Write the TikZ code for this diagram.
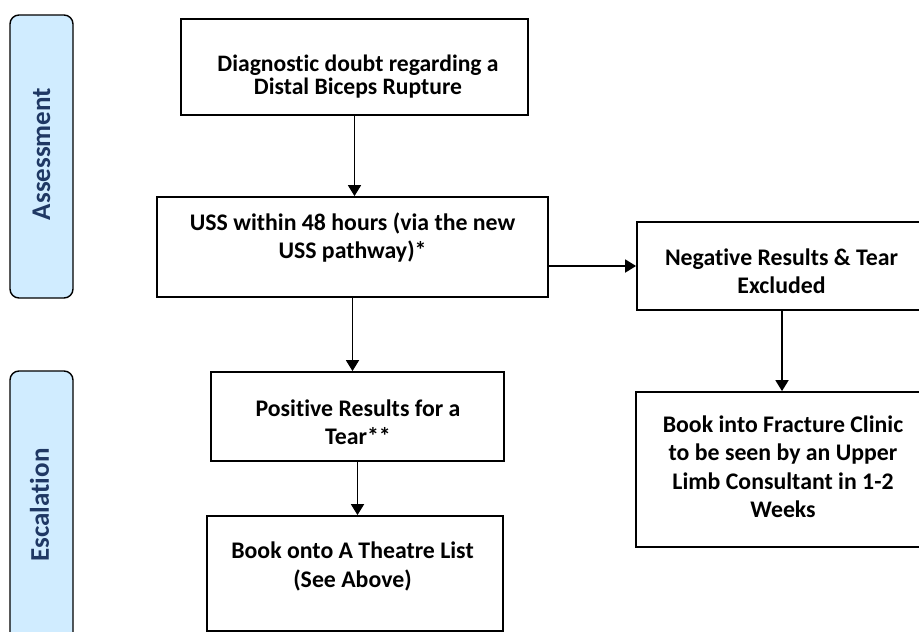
\documentclass[tikz,border=0pt]{standalone}
\usepackage{fontspec}
\setmainfont{Carlito}[Ligatures=NoCommon]
\usetikzlibrary{arrows.meta,positioning,calc}
\definecolor{bandfill}{HTML}{D0ECFF}
\definecolor{bandtext}{HTML}{1F3864}

\begin{document}
\begin{tikzpicture}
[x=1pt,y=-1pt,
flowbox/.style={draw,line width=1.8pt,inner sep=0pt},
boxtext/.style={align=center,inner sep=0pt,font=\fontsize{23.8}{28.5}\selectfont\bfseries},
band/.style={draw,line width=1.4pt,rounded corners=9pt,fill=bandfill,inner sep=0pt},
bandlabel/.style={rotate=90,text=bandtext,font=\fontsize{27}{29}\selectfont\bfseries},
%
myarrow/.style={line width=1.8pt,-{Triangle[length=11pt,width=13pt]}}]
%
\useasboundingbox (0,0) rectangle (919,632);
%
% side bands
\node (assessband) [band,minimum width=63,minimum height=283] at (41.5,156.5) {};
\node (assesslbl) [bandlabel] at (41.5,154) {Assessment};
\node (escband) [band,minimum width=63,minimum height=320] at (41.5,531) {};
\node (esclbl) [bandlabel] at (39.5,505) {Escalation};
%
% left column
\node (diag) [flowbox,minimum width=347,minimum height=96] at (354.5,67) {};
\node (diagtext) [boxtext,font=\fontsize{23.6}{23.3}\selectfont\bfseries] at (358,76.5)
  {Diagnostic doubt regarding a\\Distal Biceps Rupture};
\node (uss) [flowbox,minimum width=391,minimum height=100] at (352.5,247) {};
\node (usstext) [boxtext] at (352.5,237.5) {USS within 48 hours (via the new\\USS pathway)*};
\node (pos) [flowbox,minimum width=293,minimum height=89] at (357.5,416.5) {};
\node (postext) [boxtext] at (358,422) {Positive Results for a\\Tear**};
\node (theatre) [flowbox,minimum width=296,minimum height=115] at (355,573.5) {};
\node (theatretext) [boxtext] at (352.5,566.5) {Book onto A Theatre List\\(See Above)};
%
% right column
\node (neg) [flowbox,minimum width=290,minimum height=88] at (782,266) {};
\node (negtext) [boxtext] at (781.5,271) {Negative Results \& Tear\\Excluded};
\node (clinic) [flowbox,minimum width=292,minimum height=155] at (782,469.5) {};
\node (clinictext) [boxtext] at (783,466.5)
  {Book into Fracture Clinic\\to be seen by an Upper\\Limb Consultant in 1-2\\Weeks};
%
\draw[myarrow] (diag) -- (diag |- uss.north);
\draw[myarrow] (uss) -- (uss |- pos.north);
\draw[myarrow] (uss.east |- neg.west) -- (neg.west);
\draw[myarrow] (neg) -- (clinic);
\draw[myarrow] (pos) -- (pos |- theatre.north);
\end{tikzpicture}
\end{document}
